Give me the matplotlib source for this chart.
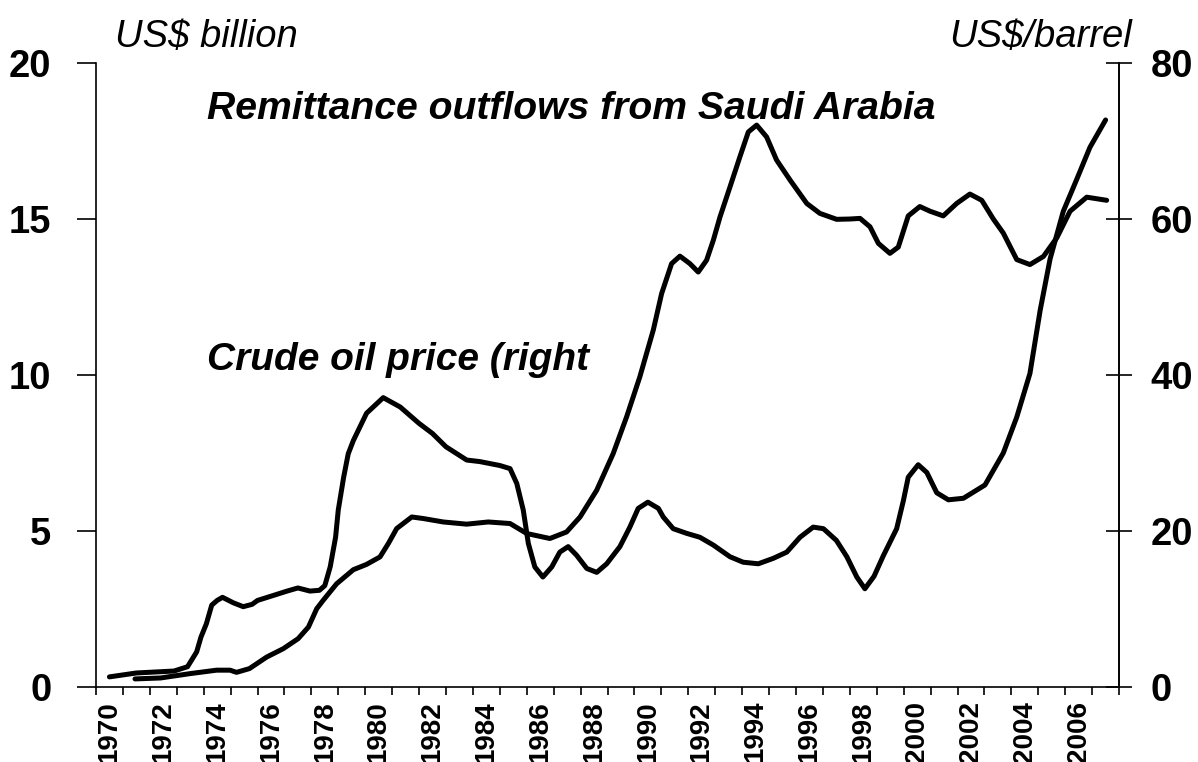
import matplotlib
matplotlib.use("Agg")
import matplotlib.pyplot as plt
from matplotlib.ticker import FixedLocator, NullFormatter

plt.rcParams['font.family'] = ['Liberation Sans', 'DejaVu Sans']

# Crude oil price, US$/barrel (right axis)
oil_years = [1970.0, 1971.0, 1972.4, 1972.9, 1973.24, 1973.4, 1973.6, 1973.8, 1974.0, 1974.2,
             1974.6, 1974.97, 1975.3, 1975.5, 1975.96, 1976.6, 1977.0, 1977.45, 1977.8, 1978.0,
             1978.2, 1978.4, 1978.5, 1978.7, 1978.87, 1979.06, 1979.55, 1980.17, 1980.8, 1981.5,
             1982.0, 1982.5, 1983.27, 1983.76, 1984.5, 1984.88, 1985.13, 1985.37, 1985.56, 1985.8,
             1986.1, 1986.43, 1986.73, 1987.04, 1987.35, 1987.73, 1988.1, 1988.47, 1988.96, 1989.33,
             1989.64, 1990.0, 1990.39, 1990.57, 1990.94, 1991.44, 1991.93, 1992.43, 1993.05, 1993.54,
             1994.1, 1994.66, 1995.16, 1995.65, 1996.14, 1996.52, 1997.0, 1997.39, 1997.76, 1998.06,
             1998.4, 1998.74, 1999.24, 1999.49, 1999.67, 2000.04, 2000.36, 2000.73, 2001.16, 2001.72,
             2002.52, 2003.2, 2003.7, 2004.19, 2004.57, 2004.94, 2005.43, 2005.93, 2006.42, 2007.0]
oil_price = [1.3, 1.8, 2.05, 2.6, 4.5, 6.4, 8.1, 10.5, 11.1, 11.5,
             10.8, 10.3, 10.6, 11.1, 11.6, 12.3, 12.7, 12.3, 12.4, 13.0,
             15.4, 19.2, 22.7, 26.9, 29.9, 31.6, 35.1, 37.1, 35.9, 33.8,
             32.5, 30.8, 29.1, 28.9, 28.4, 28.0, 26.1, 22.7, 18.4, 15.4,
             14.1, 15.4, 17.3, 18.0, 16.9, 15.2, 14.7, 15.8, 18.0, 20.5,
             22.9, 23.7, 22.9, 21.8, 20.3, 19.7, 19.2, 18.2, 16.7, 16.0,
             15.8, 16.5, 17.3, 19.2, 20.5, 20.3, 18.8, 16.7, 14.1, 12.6,
             14.2, 16.8, 20.3, 23.9, 26.9, 28.5, 27.5, 24.9, 24.0, 24.2,
             25.9, 30.0, 34.6, 40.2, 48.3, 54.9, 61.0, 65.1, 69.2, 72.7]

# Remittance outflows from Saudi Arabia, US$ billion (left axis)
rem_years = [1970.95, 1971.9, 1973.0, 1973.98, 1974.48, 1974.72, 1975.2, 1975.84, 1976.46, 1977.01,
             1977.39, 1977.7, 1977.94, 1978.44, 1979.06, 1979.55, 1980.05, 1980.36, 1980.67, 1981.23,
             1981.66, 1982.4, 1983.27, 1984.07, 1984.88, 1985.5, 1986.36, 1986.98, 1987.48, 1988.1,
             1988.71, 1989.21, 1989.7, 1990.2, 1990.51, 1990.88, 1991.19, 1991.56, 1991.87, 1992.18,
             1992.43, 1992.68, 1993.05, 1993.42, 1993.73, 1994.04, 1994.41, 1994.78, 1995.28, 1995.9,
             1996.39, 1997.01, 1997.5, 1997.88, 1998.25, 1998.56, 1998.99, 1999.3, 1999.67, 2000.1,
             2000.48, 2000.97, 2001.47, 2001.96, 2002.4, 2002.83, 2003.2, 2003.7, 2004.19, 2004.69,
             2005.19, 2005.68, 2006.3, 2007.04]
rem_values = [0.26, 0.29, 0.43, 0.54, 0.54, 0.47, 0.59, 0.96, 1.23, 1.55,
              1.92, 2.51, 2.78, 3.31, 3.76, 3.93, 4.17, 4.6, 5.08, 5.45,
              5.4, 5.29, 5.22, 5.29, 5.24, 4.92, 4.76, 4.97, 5.45, 6.31,
              7.48, 8.66, 9.94, 11.44, 12.61, 13.57, 13.81, 13.57, 13.3, 13.68,
              14.32, 15.07, 16.03, 17.0, 17.79, 18.01, 17.63, 16.89, 16.25, 15.5,
              15.18, 14.99, 15.0, 15.02, 14.75, 14.22, 13.9, 14.1, 15.1, 15.4,
              15.25, 15.1, 15.5, 15.8, 15.6, 15.0, 14.55, 13.7, 13.54, 13.8,
              14.4, 15.25, 15.7, 15.6]

year_labels = list(range(1970, 2007, 2))
left_ticks = [0, 5, 10, 15, 20]
right_ticks = [0, 20, 40, 60, 80]

fig = plt.figure(figsize=(11.98, 7.62), dpi=100)
ax = fig.add_axes([0.0801, 0.0984, 0.8540, 0.8189])
ax2 = ax.twinx()

line_kw = dict(color='black', lw=3.6, solid_joinstyle='round', solid_capstyle='round')
ax.plot(rem_years, rem_values, **line_kw)
ax2.plot(oil_years, oil_price, **line_kw)

ax.set_xlim(1969.5, 2007.5)
ax.set_ylim(0, 20)
ax2.set_ylim(0, 80)

for a in (ax, ax2):
    a.spines['top'].set_visible(False)
    for s in a.spines.values():
        s.set_linewidth(1.2)
ax2.spines['left'].set_visible(False)
ax2.spines['bottom'].set_visible(False)

# x axis: category boundaries as tick marks, labels at category centers
ax.xaxis.set_major_locator(FixedLocator(year_labels))
ax.set_xticklabels([str(y) for y in year_labels], rotation=90, fontsize=20, fontweight='bold')
ax.tick_params(axis='x', which='major', length=0, pad=10)
ax.xaxis.set_minor_locator(FixedLocator([1969.5 + k for k in range(39)]))
ax.xaxis.set_minor_formatter(NullFormatter())
ax.tick_params(axis='x', which='minor', direction='out', length=5.5, width=1.2)

ax.set_yticks(left_ticks)
ax.set_yticklabels([str(v) for v in left_ticks], fontsize=27.5, fontweight='bold')
ax.tick_params(axis='y', direction='out', length=14, width=1.2, pad=18)

ax2.set_yticks(right_ticks)
ax2.set_yticklabels([str(v) for v in right_ticks], fontsize=27.5, fontweight='bold')
ax2.tick_params(axis='y', direction='inout', length=19, width=1.2, pad=13)

fig.text(115 / 1198, 1 - 47 / 762, 'US$ billion', fontsize=27.5, style='italic', va='baseline', ha='left')
fig.text(1132 / 1198, 1 - 47 / 762, 'US$/barrel', fontsize=27.5, style='italic', va='baseline', ha='right')
fig.text(207 / 1198, 1 - 119 / 762, 'Remittance outflows from Saudi Arabia', fontsize=28.2,
         style='italic', fontweight='bold', va='baseline', ha='left')
fig.text(207 / 1198, 1 - 370 / 762, 'Crude oil price (right', fontsize=28,
         style='italic', fontweight='bold', va='baseline', ha='left')

fig.savefig('out.png', dpi=100)
